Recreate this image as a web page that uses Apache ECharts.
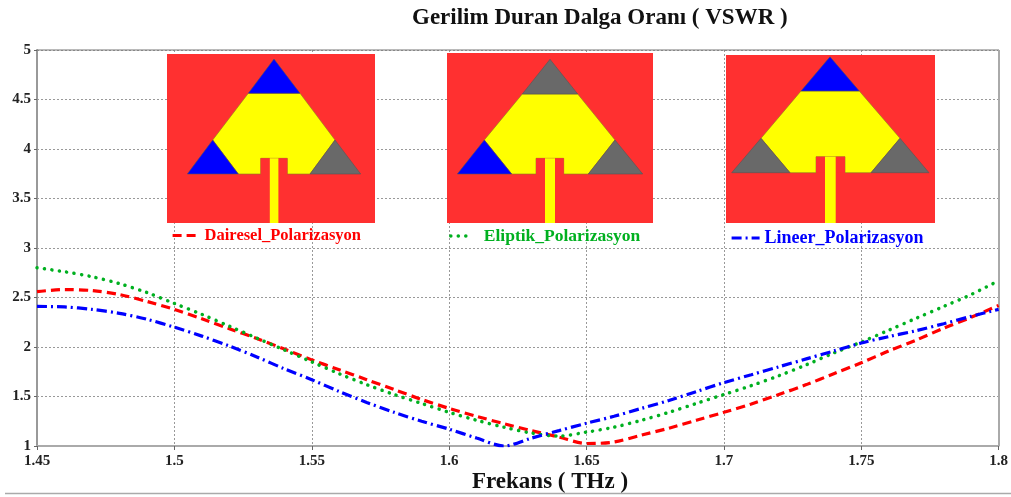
<!DOCTYPE html>
<html>
<head>
<meta charset="utf-8">
<style>html,body{margin:0;padding:0;background:#fff}#c{width:1011px;height:497px;filter:blur(0.4px)}</style>
<script src="https://cdn.jsdelivr.net/npm/echarts@6/dist/echarts.min.js"></script>
</head>
<body>
<div id="c"></div>
<script>
var frequency = [1.45,1.46,1.47,1.48,1.49,1.5,1.51,1.52,1.53,1.54,1.55,1.56,1.57,1.58,1.59,1.6,1.61,1.62,1.63,1.64,1.65,1.66,1.67,1.68,1.69,1.7,1.71,1.72,1.73,1.74,1.75,1.76,1.77,1.78,1.79,1.8];
var dairesel = [2.56,2.58,2.57,2.53,2.46,2.38,2.285,2.185,2.085,1.98,1.87,1.77,1.67,1.57,1.47,1.38,1.30,1.225,1.155,1.09,1.025,1.04,1.11,1.18,1.26,1.34,1.425,1.52,1.62,1.73,1.84,1.96,2.07,2.19,2.30,2.42];
var eliptik = [2.80,2.76,2.71,2.64,2.55,2.44,2.33,2.21,2.09,1.97,1.85,1.73,1.62,1.52,1.43,1.34,1.26,1.19,1.13,1.10,1.14,1.19,1.26,1.34,1.43,1.52,1.61,1.71,1.82,1.94,2.05,2.17,2.29,2.41,2.53,2.67];
var lineer = [2.41,2.405,2.38,2.34,2.28,2.20,2.11,2.01,1.90,1.78,1.67,1.55,1.44,1.34,1.25,1.17,1.08,1.00,1.08,1.155,1.23,1.30,1.38,1.46,1.55,1.64,1.72,1.80,1.88,1.96,2.04,2.105,2.165,2.235,2.31,2.38];
var seriesNames = ['Dairesel_Polarizasyon','Eliptik_Polarizasyon','Lineer_Polarizasyon'];
var titleText = 'Gerilim Duran Dalga Oranı ( VSWR )';
var xAxisTitle = 'Frekans ( THz )';

var RED='#ff3030',YEL='#ffff00',BLU='#0000ff',GRY='#696969';
// Antenna inset drawings (page pixels)
var insets = [
 {r:[167,54,208,169],apex:[274,59],band:[248.3,300,93.3],base:[187.3,360.7,174],lt:[212.7,140,238.3],rt:[335,140,310],slot:[260.7,269.8,278.4,287.3,158.3],c:[BLU,BLU,GRY]},
 {r:[447,53,206,170],apex:[550,59.3],band:[522.3,577.7,94],base:[457.3,642.7,174],lt:[484.3,140,511.7],rt:[615,140,588.3],slot:[536,545,555,563.7,158.3],c:[GRY,BLU,GRY]},
 {r:[726,55,209,168],apex:[830,56.7],band:[801,859.3,91],base:[731.7,929,172.7],lt:[761,138.3,790],rt:[900,138.3,871],slot:[816,825,835.7,845,156.7],c:[BLU,GRY,GRY]}
];
var graphics = [];
function poly(points,fill,stroke){graphics.push({type:'polygon',z:1,silent:true,shape:{points:points},style:{fill:fill,stroke:stroke||null,lineWidth:stroke?0.6:0}});}
insets.forEach(function(a){
  var R=a.r,by=a.base[2],s=a.slot,rb=R[1]+R[3];
  graphics.push({type:'rect',z:1,silent:true,shape:{x:R[0],y:R[1],width:R[2],height:R[3]},style:{fill:RED}});
  poly([[a.band[0],a.band[2]],[a.band[1],a.band[2]],[a.rt[0],a.rt[1]],[a.rt[2],by],[s[3],by],[s[3],s[4]],[s[0],s[4]],[s[0],by],[a.lt[2],by],[a.lt[0],a.lt[1]]],YEL,'#8a7a20');
  poly([a.apex,[a.band[1],a.band[2]],[a.band[0],a.band[2]]],a.c[0],'#555');
  poly([[a.base[0],by],[a.lt[0],a.lt[1]],[a.lt[2],by]],a.c[1],'#555');
  poly([[a.base[1],by],[a.rt[0],a.rt[1]],[a.rt[2],by]],a.c[2],'#555');
  graphics.push({type:'rect',z:1,silent:true,shape:{x:s[0],y:s[4],width:s[1]-s[0],height:by-s[4]},style:{fill:RED}});
  graphics.push({type:'rect',z:1,silent:true,shape:{x:s[2],y:s[4],width:s[3]-s[2],height:by-s[4]},style:{fill:RED}});
  graphics.push({type:'rect',z:1,silent:true,shape:{x:s[1],y:s[4],width:s[2]-s[1],height:rb-s[4]},style:{fill:YEL}});
});
graphics.push({type:'line',z:1,silent:true,shape:{x1:5,y1:493.5,x2:1011,y2:493.5},style:{stroke:'#aaa',lineWidth:1.5}});
graphics.push({type:'line',z:1,silent:true,shape:{x1:37,y1:50,x2:999,y2:50},style:{stroke:'#777',lineWidth:1.2}});
graphics.push({type:'line',z:1,silent:true,shape:{x1:999,y1:50,x2:999,y2:446},style:{stroke:'#aaa',lineWidth:2}});

function pairs(v){return frequency.map(function(f,i){return [f,v[i]];});}
function line(name,vals,color,dash,cap,w){
  return {name:name,type:'line',data:pairs(vals),showSymbol:false,symbol:'none',smooth:0.3,clip:true,z:3,
    lineStyle:{color:color,width:w,type:dash,cap:cap},itemStyle:{color:color}};
}
function legend(idx,left,top,w,color,pad,size,lw,dash,cap){
  return {data:[seriesNames[idx]],left:left,top:top,padding:0,itemWidth:w,itemHeight:0.01,z:5,selectedMode:false,
    lineStyle:{width:lw,type:dash,cap:cap,color:color},
    textStyle:{color:color,fontFamily:'Liberation Serif',fontWeight:'bold',fontSize:size,padding:[0,0,0,pad]}};
}
var serif='Liberation Serif';
var chart = echarts.init(document.getElementById('c'),null,{renderer:'canvas'});
chart.setOption({
  animation:false,
  backgroundColor:'#fff',
  title:[
   {text:titleText,left:412,top:7,padding:0,textStyle:{fontFamily:serif,fontWeight:'bold',fontSize:23,color:'#111'}},
   {text:xAxisTitle,left:472,top:471,padding:0,textStyle:{fontFamily:serif,fontWeight:'bold',fontSize:23,color:'#111'}}
  ],
  legend:[
    legend(0,171,227,27,'#ff0000',0,16.5,3.2,[9,5],'butt'),
    legend(1,449,227,22,'#00b020',6,17.5,3.5,[0.1,7.4],'round'),
    legend(2,730,229,28,'#0000ff',0,18,3.2,[10,4,2,4],'butt')
  ],
  grid:{left:37,right:12,top:50,bottom:51,containLabel:false},
  xAxis:{type:'value',min:1.45,max:1.8,interval:0.05,
    axisLine:{show:true,lineStyle:{color:'#aaa',width:2}},
    axisTick:{show:true,length:4,lineStyle:{color:'#666',width:1}},
    axisLabel:{color:'#222',fontFamily:serif,fontWeight:'bold',fontSize:15,margin:8,hideOverlap:false,showMinLabel:true,showMaxLabel:true},
    splitLine:{show:true,lineStyle:{color:'#999',width:1,type:[2,2]}}},
  yAxis:{type:'value',min:1,max:5,interval:0.5,
    axisLine:{show:true,lineStyle:{color:'#999',width:2}},
    axisTick:{show:true,length:3,lineStyle:{color:'#666',width:1}},
    axisLabel:{color:'#222',fontFamily:serif,fontWeight:'bold',fontSize:15,margin:6,showMinLabel:true,showMaxLabel:true},
    splitLine:{show:true,lineStyle:{color:'#999',width:1,type:[2,2]}}},
  graphic:graphics,
  series:[
    line(seriesNames[0],dairesel,'#ff0000',[9,5],'butt',3.2),
    line(seriesNames[1],eliptik,'#00b020',[0.1,7.4],'round',3.5),
    line(seriesNames[2],lineer,'#0000ff',[10,4,2,4],'butt',3.2)
  ]
});
</script>
</body>
</html>
